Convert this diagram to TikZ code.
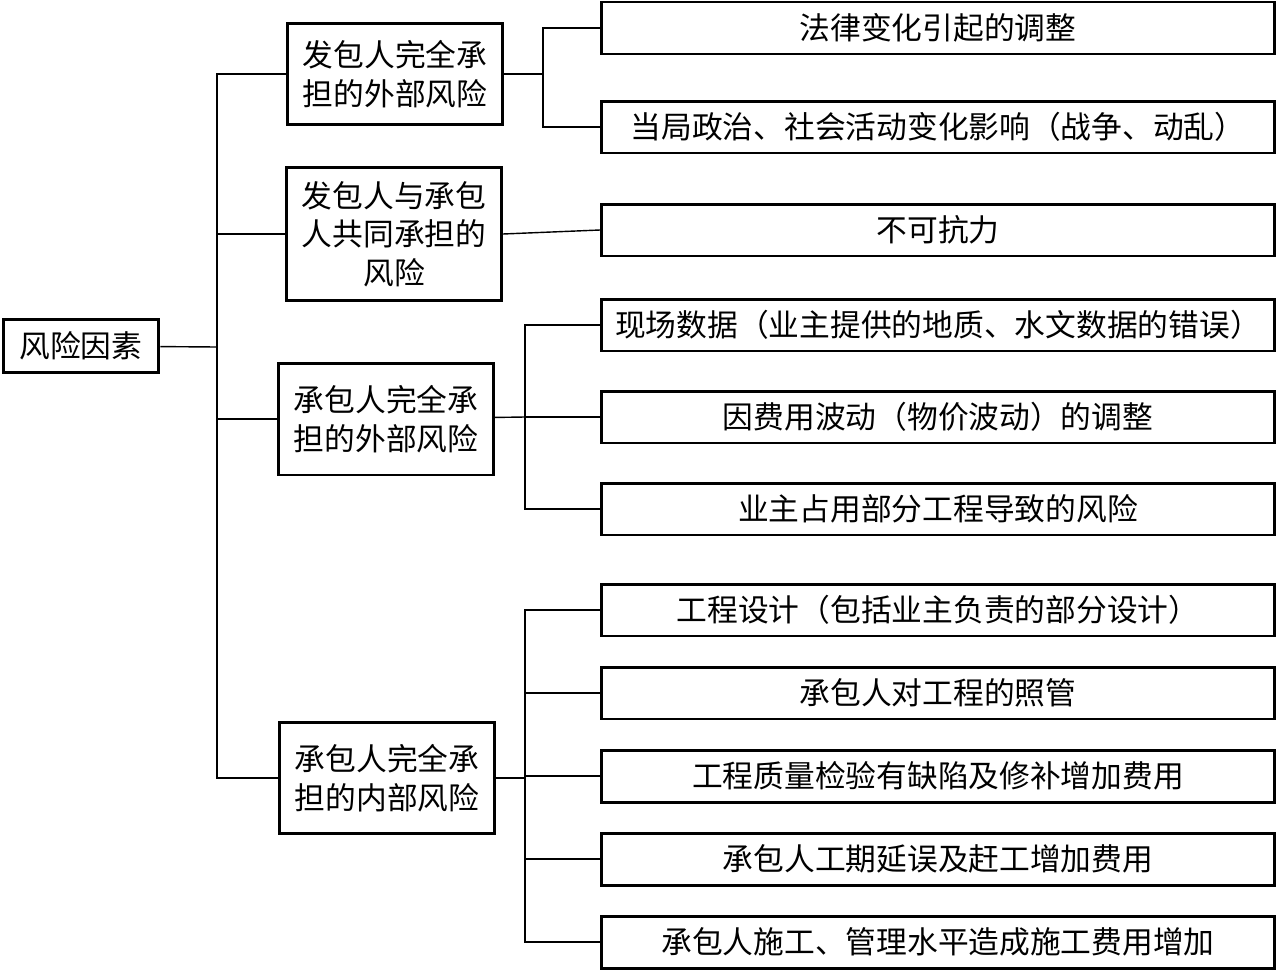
\documentclass[tikz,border=0pt]{standalone}
\usepackage{fontspec}
\setmainfont{Noto Sans CJK SC}
\usetikzlibrary{positioning, calc}

\begin{document}
\begin{tikzpicture}[x=0.02cm, y=-0.02cm,
    font=\fontsize{17.5pt}{22pt}\selectfont,
    root_box/.style={rectangle, draw, black, line width=1.7pt, minimum width=3.12cm, minimum height=1.06cm, inner sep=0pt, align=center},
    risk_box/.style={rectangle, draw, black, line width=1.7pt, minimum width=4.3cm, inner sep=0pt, align=center},
    item_box/.style={rectangle, draw, black, line width=1.7pt, minimum width=13.46cm, minimum height=1.04cm, inner sep=0pt, align=center},
    link/.style={draw, black, line width=0.8pt}]

    \useasboundingbox (0,0) rectangle (1277,970);

    % --- Root ---
    \node[root_box] (root) at (81,346) {风险因素};

    % --- Risk groups ---
    \node[risk_box, minimum height=2.02cm] (owner_ext) at (395,74) {发包人完全承\\担的外部风险};
    \node[risk_box, minimum height=2.66cm] (shared) at (394,234) {发包人与承包\\人共同承担的\\风险};
    \node[risk_box, minimum height=2.24cm] (contr_ext) at (386,419) {承包人完全承\\担的外部风险};
    \node[risk_box, minimum height=2.22cm] (contr_int) at (387,778) {承包人完全承\\担的内部风险};

    % --- Items ---
    \node[item_box] (law) at (938,28) {法律变化引起的调整};
    \node[item_box] (politics) at (938,127) {当局政治、社会活动变化影响（战争、动乱）};
    \node[item_box] (force) at (938,230) {不可抗力};
    \node[item_box] (site) at (938,325) {现场数据（业主提供的地质、水文数据的错误）};
    \node[item_box] (price) at (938,417) {因费用波动（物价波动）的调整};
    \node[item_box] (occupy) at (938,509) {业主占用部分工程导致的风险};
    \node[item_box] (design) at (938,610) {工程设计（包括业主负责的部分设计）};
    \node[item_box] (care) at (938,693) {承包人对工程的照管};
    \node[item_box] (defect) at (938,776) {工程质量检验有缺陷及修补增加费用};
    \node[item_box] (delay) at (938,859) {承包人工期延误及赶工增加费用};
    \node[item_box] (manage) at (938,942) {承包人施工、管理水平造成施工费用增加};

    % --- Trunk ---
    \coordinate (trunk) at (217,347);
    \draw[link] (root) -- (trunk);
    \draw[link] (owner_ext.west) -| (trunk);
    \draw[link] (shared.west) -| (trunk);
    \draw[link] (contr_ext.west) -| (trunk);
    \draw[link] (contr_int.west) -| (trunk);

    % --- Owner external ---
    \coordinate (j_owner) at (543,74);
    \draw[link] (owner_ext) -- (j_owner);
    \draw[link] (law.west) -| (j_owner);
    \draw[link] (politics.west) -| (j_owner);

    % --- Shared ---
    \draw[link] (shared.east) -- (force.west);

    % --- Contractor external ---
    \coordinate (j_ext) at (525,417);
    \draw[link] (contr_ext) -- (j_ext);
    \draw[link] (site.west) -| (j_ext);
    \draw[link] (price.west) -- (j_ext);
    \draw[link] (occupy.west) -| (j_ext);

    % --- Contractor internal ---
    \coordinate (j_int) at (525,778);
    \draw[link] (contr_int) -- (j_int);
    \draw[link] (design.west) -| (j_int);
    \draw[link] (care.west) -| (j_int);
    \draw[link] (defect.west) -| (j_int);
    \draw[link] (delay.west) -| (j_int);
    \draw[link] (manage.west) -| (j_int);

\end{tikzpicture}
\end{document}
